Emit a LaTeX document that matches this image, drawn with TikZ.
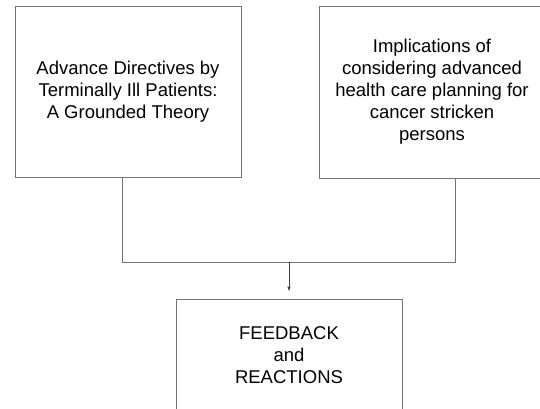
\documentclass[tikz,border=0pt]{standalone}
\usepackage{fontspec}
\setmainfont{Liberation Sans}
\usetikzlibrary{arrows.meta}

\begin{document}
\begin{tikzpicture}[x=1pt,y=-1pt,
    box/.style={draw=black!55,line width=0.8,minimum width=226,align=center,inner sep=0,
    font=\fontsize{18.5}{22}\selectfont},
    link/.style={draw=black!55,line width=0.8},
    feed/.style={link,draw=black!75,-{Latex[length=5,width=3.5]}}
    ]
    \def\Wd{540} % picture width
    \def\Ht{408} % picture height
    \useasboundingbox (0,0) rectangle (\Wd,\Ht);
    \begin{scope}
    \clip (0,0) rectangle (\Wd,\Ht);

    % two source boxes
    \node[box,minimum height=171] (study) at (128,91.5)
        {Advance Directives by\\ Terminally Ill Patients:\\ A Grounded Theory};
    \node[box,minimum height=172] (plan) at (432,92)
        {Implications of\\ considering advanced\\ health care planning for\\ cancer stricken\\ persons};
    % result box
    \node[box,minimum height=113] (react) at (289,355.5)
        {FEEDBACK\\ and\\ REACTIONS};

    \coordinate (join) at (289,262);
    \draw[link] ([xshift=-6]study.south) |- (join);
    \draw[link] ([xshift=23]plan.south) |- (join);
    \draw[feed] (join) -- ([yshift=7]react.north);
    \end{scope}
\end{tikzpicture}
\end{document}
